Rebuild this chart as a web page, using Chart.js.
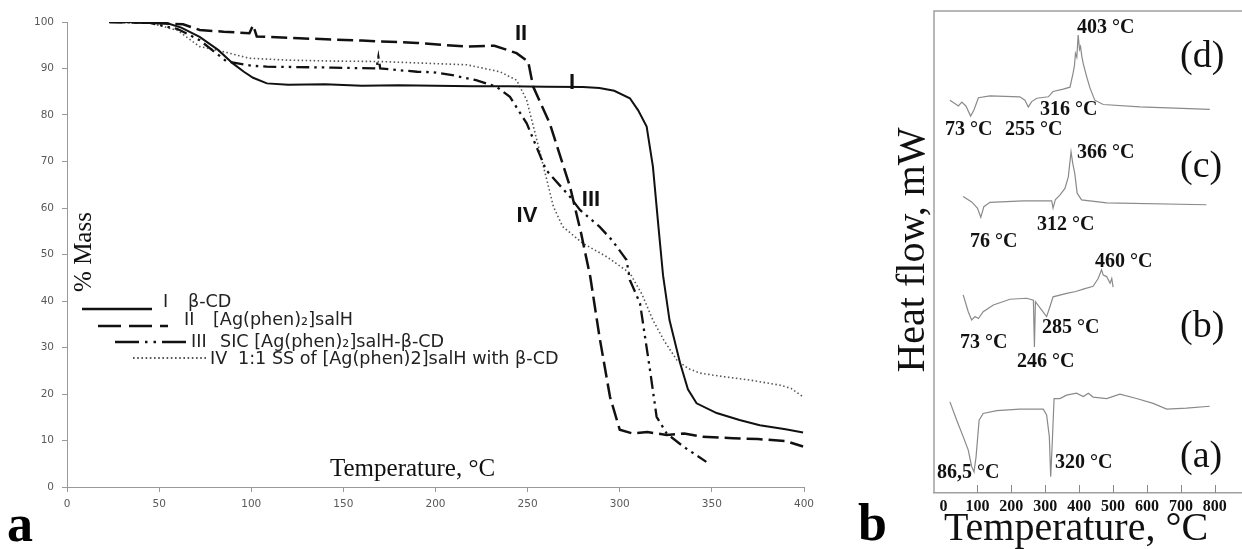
<!DOCTYPE html>
<html>
<head>
<meta charset="utf-8">
<script src="https://cdn.jsdelivr.net/npm/chart.js@4/dist/chart.umd.min.js"></script>
<style>
  body { margin: 0; background: #fff; width: 1242px; height: 549px; overflow: hidden; position: relative; }
  canvas { position: absolute; top: 0; }
  #tga { left: 0; }
  #dsc { left: 850px; }
</style>
</head>
<body>
<canvas id="tga" width="840" height="549"></canvas>
<canvas id="dsc" width="392" height="549"></canvas>
<script>
// ---- panel a : TGA, % mass vs temperature ----
const seriesNames = ['β-CD', '[Ag(phen)₂]salH', 'SIC [Ag(phen)₂]salH-β-CD', '1:1 SS of [Ag(phen)2]salH with β-CD'];
const seriesNumerals = ['I', 'II', 'III', 'IV'];

const tempI = [23, 40, 54, 62, 72, 82, 90, 96, 101, 108.5, 120, 140, 160, 180, 200, 220, 240, 260, 280, 289, 297, 305.5, 310, 314.6, 318, 321, 323.5, 327, 332.7, 337, 341.7, 352.6, 365, 376, 390, 399.5];
const massI = [100, 100, 99.8, 98.8, 96.8, 94, 91.1, 89.3, 88, 86.8, 86.5, 86.6, 86.3, 86.4, 86.3, 86.2, 86.2, 86.1, 86, 85.8, 85.2, 83.6, 81, 77.5, 68.9, 56, 45.5, 35.9, 26.7, 21, 18, 15.9, 14.4, 13.3, 12.4, 11.7];

const tempII = [23, 45, 63, 72, 85, 99, 101, 103, 126, 160, 190, 217, 232, 244, 250.3, 253, 262, 273, 279, 284, 289, 294.7, 300, 307, 315, 325.5, 335, 345, 361.5, 375, 390, 399.5];
const massII = [100, 99.8, 99.5, 98.3, 97.9, 97.6, 99.3, 96.9, 96.5, 96, 95.5, 94.7, 94.9, 93.3, 91.5, 86.1, 78.2, 64.6, 54.6, 45.2, 32.3, 19.4, 12.3, 11.5, 11.8, 11.2, 11.5, 10.8, 10.5, 10.3, 9.9, 8.7];

const tempIII = [23, 45, 60, 72, 86.7, 100, 108.4, 144, 168, 169, 170, 190, 198.7, 210, 222, 233, 240.4, 249.5, 260, 273, 278.4, 289, 296, 303.7, 305.5, 311, 316.4, 320, 325.5, 334.5, 347];
const massIII = [100, 99.8, 98.5, 96.1, 91.5, 90.6, 90.4, 90.2, 90, 92.5, 90, 89.3, 89.2, 88.5, 87.5, 86.1, 83.9, 78.2, 68.2, 62.4, 59.6, 56, 53, 48.8, 44.5, 39.5, 25.2, 15.1, 11.5, 8.7, 5.4];

const tempIV = [23, 45, 60, 72, 81, 99, 120, 144.5, 170, 190, 217, 235, 244, 249.5, 255, 260, 264, 269, 280, 293, 305.5, 312, 318, 324, 331, 337, 343.5, 355, 370.7, 387, 393, 399.5];
const massIV = [100, 99.8, 98.2, 94.7, 94, 92.2, 91.8, 91.6, 91.5, 91.2, 90.8, 89.3, 87.5, 83.2, 74.6, 66.7, 60.3, 56, 52.4, 49.5, 46, 41.5, 35.9, 31.5, 27.3, 25.5, 24.5, 23.8, 23, 21.9, 21.2, 19.4];

const tgaTicksX = [0, 50, 100, 150, 200, 250, 300, 350, 400];
const tgaTicksY = [0, 10, 20, 30, 40, 50, 60, 70, 80, 90, 100];

// ---- panel b : DSC, heat flow vs temperature (curves offset) ----
const curveLetters = ['(a)', '(b)', '(c)', '(d)'];

const tempA = [19, 39, 58, 73, 83, 90, 96, 105, 117, 157, 225, 294, 304, 312, 316, 321, 326, 343, 363, 392, 412, 427, 441, 481, 520, 569, 618, 658, 716, 785];
const flowA = [18.9, 15.1, 11.7, 8.9, 5.5, 4.4, 7.5, 15.1, 16.5, 17.1, 17.4, 17.4, 16.2, 11.7, 3.4, 11.0, 19.6, 19.6, 20.3, 20.7, 20.0, 20.7, 19.9, 19.6, 20.5, 19.6, 18.6, 17.4, 17.6, 18.0];

const tempB = [58, 73, 83, 93, 103, 117, 147, 196, 245, 265, 268, 271, 289, 304, 314, 323, 363, 390, 412, 441, 456, 466, 471, 481, 491, 496, 500];
const flowB = [41.1, 37.6, 35.9, 36.6, 36.2, 37.6, 39.0, 40.2, 40.4, 40.0, 30.3, 39.7, 38.0, 36.6, 38.7, 40.7, 41.4, 41.8, 42.3, 42.9, 44.5, 46.3, 45.2, 44.9, 43.5, 44.5, 42.7];

const tempC = [58, 83, 100, 110, 119, 137, 235, 319, 323, 330, 343, 358, 368, 376, 381, 387, 394, 407, 481, 775];
const flowC = [61.5, 60.4, 59.1, 57.2, 59.4, 60.3, 60.6, 60.6, 59.1, 60.9, 61.8, 63.2, 65.6, 70.8, 68.4, 66.3, 62.2, 60.8, 60.2, 59.8];

const tempD = [19, 44, 54, 66, 80, 90, 103, 137, 225, 240, 250, 260, 275, 309, 323, 353, 373, 382, 386, 389, 393, 397, 401, 404, 408, 412, 422, 432, 446, 471, 579, 785];
const flowD = [81.5, 80.3, 81.1, 80.3, 78.2, 79.5, 82.0, 82.4, 82.2, 81.5, 80.1, 81.2, 81.9, 82.2, 83.3, 83.8, 84.2, 87.1, 88.6, 91.2, 90.4, 95.0, 92.0, 92.6, 90.5, 89.1, 86.4, 84.0, 81.5, 80.6, 80.1, 79.6];

const dscTicksX = [0, 100, 200, 300, 400, 500, 600, 700, 800];

const peakLabels = ['403 °C', '316 °C', '73 °C', '255 °C', '366 °C', '76 °C', '312 °C', '460 °C', '285 °C', '73 °C', '246 °C', '86,5 °C', '320 °C'];

function pts(t, v) { return t.map((x, i) => ({ x: x, y: v[i] })); }

const tgaStyles = [
  { borderDash: [], borderWidth: 2, borderColor: '#111' },
  { borderDash: [16, 6], borderWidth: 2.5, borderColor: '#111' },
  { borderDash: [13, 5, 2.5, 5, 2.5, 5], borderWidth: 2.3, borderColor: '#111' },
  { borderDash: [1.5, 2.5], borderWidth: 1.6, borderColor: '#555' }
];

const tgaData = [pts(tempI, massI), pts(tempII, massII), pts(tempIII, massIII), pts(tempIV, massIV)];

// text overlay for panel a
const tgaText = {
  id: 'tgaText',
  afterDraw(chart) {
    const ctx = chart.ctx;
    ctx.save();
    ctx.fillStyle = '#111';
    ctx.font = '25px "Liberation Serif"';
    ctx.textBaseline = 'alphabetic';
    ctx.fillText('Temperature, °C', 330, 476);
    ctx.save();
    ctx.translate(91, 252);
    ctx.rotate(-Math.PI / 2);
    ctx.textAlign = 'center';
    ctx.fillText('% Mass', 0, 0);
    ctx.restore();

    // curve labels
    ctx.font = 'bold 22px "Liberation Sans"';
    ctx.textAlign = 'center';
    ctx.textBaseline = 'middle';
    const cl = [[572, 83], [521, 34], [591, 200], [527, 216]];
    seriesNumerals.forEach((n, i) => ctx.fillText(n, cl[i][0], cl[i][1]));

    // legend
    const lx0 = [82, 98, 115, 133], lx1 = [152, 168, 187, 207], ly = [309, 326, 342, 358];
    const nx = [163, 184, 191, 210], tx = [188, 213, 220, 238], by = [307, 325, 347, 364];
    ctx.font = '17.6px "DejaVu Sans"';
    ctx.textAlign = 'left';
    ctx.textBaseline = 'alphabetic';
    chart.data.datasets.forEach((ds, i) => {
      ctx.save();
      ctx.strokeStyle = ds.borderColor;
      ctx.lineWidth = i === 3 ? 1.8 : 2.6;
      ctx.setLineDash(i === 1 ? [23, 8] : i === 2 ? [24, 6, 2.5, 6, 2.5, 6] : i === 3 ? [1.6, 2.6] : []);
      ctx.beginPath();
      ctx.moveTo(lx0[i], ly[i]);
      ctx.lineTo(lx1[i], ly[i]);
      ctx.stroke();
      ctx.restore();
      ctx.fillStyle = '#222';
      ctx.fillText(seriesNumerals[i], nx[i], by[i]);
      ctx.fillText(seriesNames[i], tx[i], by[i]);
    });

    ctx.fillStyle = '#000';
    ctx.font = 'bold 52px "Liberation Serif"';
    ctx.fillText('a', 7, 541);
    ctx.restore();
  }
};

const axisGrey = '#9a9a9a';
const tickFont = { family: 'DejaVu Sans', size: 10.5 };

new Chart(document.getElementById('tga'), {
  type: 'line',
  data: {
    datasets: tgaData.map((d, i) => Object.assign({ label: seriesNames[i], data: d, fill: false }, tgaStyles[i]))
  },
  options: {
    responsive: false,
    animation: false,
    devicePixelRatio: 1,
    layout: { padding: { top: 22, right: 36, left: 0, bottom: 0 } },
    plugins: { legend: { display: false }, tooltip: { enabled: false } },
    elements: { point: { radius: 0 }, line: { tension: 0 } },
    scales: {
      x: {
        type: 'linear', min: 0, max: 400,
        afterBuildTicks: s => { s.ticks = tgaTicksX.map(v => ({ value: v })); },
        ticks: { color: '#595959', font: tickFont, padding: 6, maxRotation: 0 },
        grid: { drawOnChartArea: false, drawTicks: true, tickLength: 5, color: axisGrey },
        border: { color: axisGrey },
        afterFit: s => { s.height = 62; }
      },
      y: {
        type: 'linear', min: 0, max: 100,
        afterBuildTicks: s => { s.ticks = tgaTicksY.map(v => ({ value: v })); },
        ticks: { color: '#595959', font: tickFont, padding: 8 },
        grid: { drawOnChartArea: false, drawTicks: true, tickLength: 5, color: axisGrey },
        border: { color: axisGrey },
        afterFit: s => { s.width = 67; }
      }
    }
  },
  plugins: [tgaText]
});

// ---- panel b ----
const dscData = [pts(tempA, flowA), pts(tempB, flowB), pts(tempC, flowC), pts(tempD, flowD)];

// positions of peak labels (page px: left, baseline)
const peakPos = [[1077, 33], [1040, 115], [945, 135], [1005, 135], [1077, 158], [970, 247], [1037, 230], [1095, 267], [1042, 333], [960, 348], [1017, 367], [937, 478], [1055, 468]];
const letterPos = [[1180, 467], [1180, 337], [1180, 177], [1180, 67]];
const OFF = 850;

const dscText = {
  id: 'dscText',
  afterDraw(chart) {
    const ctx = chart.ctx;
    const a = chart.chartArea;
    const xs = chart.scales.x;
    ctx.save();
    // frame top + left
    ctx.strokeStyle = '#a0a0a0';
    ctx.lineWidth = 1.5;
    ctx.beginPath();
    ctx.moveTo(chart.width, a.top);
    ctx.lineTo(a.left, a.top);
    ctx.lineTo(a.left, a.bottom);
    ctx.stroke();
    // inner tick marks
    ctx.strokeStyle = '#888';
    ctx.lineWidth = 1;
    ctx.beginPath();
    xs.ticks.forEach(t => {
      if (t.value === 0) return;
      const px = Math.round(xs.getPixelForValue(t.value)) + 0.5;
      ctx.moveTo(px, a.bottom);
      ctx.lineTo(px, a.bottom - 8);
    });
    ctx.stroke();

    ctx.fillStyle = '#111';
    ctx.textBaseline = 'alphabetic';
    ctx.textAlign = 'left';
    ctx.font = 'bold 20px "Liberation Serif"';
    peakLabels.forEach((s, i) => ctx.fillText(s, peakPos[i][0] - OFF, peakPos[i][1]));
    ctx.font = '38px "Liberation Serif"';
    curveLetters.forEach((s, i) => ctx.fillText(s, letterPos[i][0] - OFF, letterPos[i][1]));

    ctx.font = '40px "Liberation Serif"';
    ctx.textAlign = 'center';
    ctx.fillText('Temperature, °C', 1076 - OFF, 540);
    ctx.save();
    ctx.translate(924 - OFF, 250);
    ctx.rotate(-Math.PI / 2);
    ctx.fillText('Heat flow, mW', 0, 0);
    ctx.restore();

    ctx.fillStyle = '#000';
    ctx.textAlign = 'left';
    ctx.font = 'bold 52px "Liberation Serif"';
    ctx.fillText('b', 858 - OFF, 540);
    ctx.restore();
  }
};

new Chart(document.getElementById('dsc'), {
  type: 'line',
  data: {
    datasets: dscData.map((d, i) => ({ label: curveLetters[i], data: d, borderColor: '#8a8a8a', borderWidth: 1.2, fill: false }))
  },
  options: {
    responsive: false,
    animation: false,
    devicePixelRatio: 1,
    layout: { padding: { top: 11, right: 0, left: 84, bottom: 0 } },
    plugins: { legend: { display: false }, tooltip: { enabled: false } },
    elements: { point: { radius: 0 }, line: { tension: 0 } },
    scales: {
      x: {
        type: 'linear', min: -28, max: 880,
        afterBuildTicks: s => { s.ticks = dscTicksX.map(v => ({ value: v })); },
        ticks: { color: '#111', font: { family: 'Liberation Serif', size: 16, weight: 'bold' }, padding: 4, maxRotation: 0, autoSkip: false },
        grid: { display: false, drawTicks: false },
        border: { color: '#a0a0a0', width: 1.5 },
        afterFit: s => { s.height = 56; }
      },
      y: { type: 'linear', min: 0, max: 100, display: false }
    }
  },
  plugins: [dscText]
});
</script>
</body>
</html>
